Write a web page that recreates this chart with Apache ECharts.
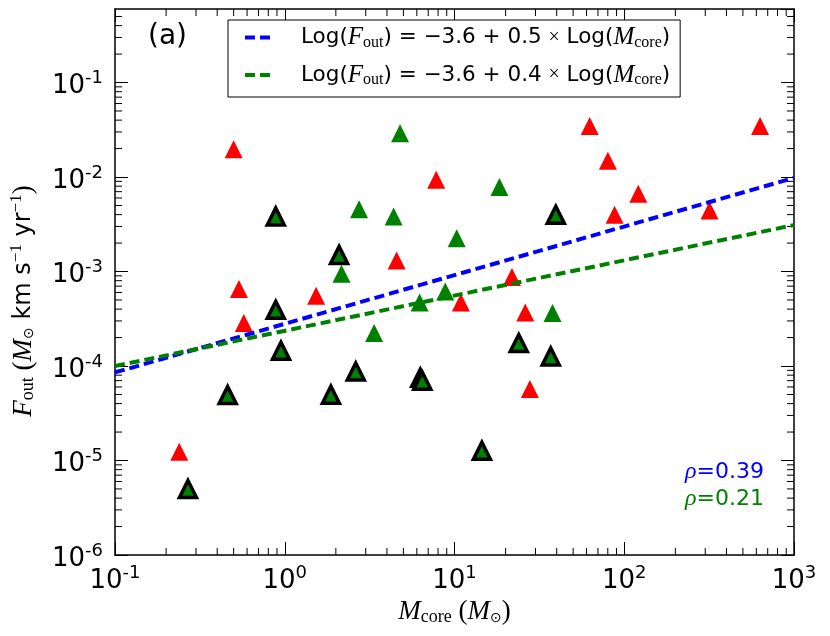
<!DOCTYPE html>
<html lang="en">

<head>
  <meta charset="UTF-8">
  <title>F_out vs M_core</title>
  <style>
    html, body { margin: 0; padding: 0; background: #fff; }
  </style>
</head>

<body>
  <div id="chart" style="width: 830px;height: 636px;"></div>
  <script src="https://cdn.jsdelivr.net/npm/echarts@6.0.0/dist/echarts.min.js"></script>
  <script>
    // axis ranges (log axes)
    var xRange = [0.1, 1000];
    var yRange = [1e-6, 0.6];
    var minorSteps = [2, 3, 4, 5, 6, 7, 8, 9];

    // [M_core, F_out]
    var redPoints = [
      [0.239, 1.24e-5], [0.50, 0.0197], [0.537, 6.52e-4], [0.574, 2.86e-4],
      [1.53, 5.53e-4], [4.56, 1.31e-3], [7.80, 9.33e-3], [10.9, 4.70e-4],
      [21.8, 8.73e-4], [26.1, 3.68e-4], [27.8, 5.70e-5], [62.6, 0.0347],
      [80.1, 0.0149], [87.7, 3.98e-3], [121, 6.64e-3], [318, 4.42e-3],
      [631, 0.0347]
    ];
    var greenPoints = [
      [4.78, 0.0291], [2.74, 4.57e-3], [4.38, 3.82e-3], [18.4, 7.82e-3],
      [10.3, 2.25e-3], [2.16, 9.46e-4], [8.82, 6.15e-4], [6.23, 4.70e-4],
      [37.8, 3.63e-4], [3.36, 2.23e-4]
    ];
    var edgedPoints = [
      [0.885, 3.82e-3], [0.885, 3.93e-4], [2.09, 1.50e-3], [0.95, 1.45e-4],
      [0.461, 4.93e-5], [1.87, 4.97e-5], [2.62, 8.75e-5], [6.29, 7.51e-5],
      [6.46, 6.98e-5], [0.269, 4.99e-6], [39.5, 3.98e-3], [23.9, 1.75e-4],
      [36.9, 1.26e-4], [14.5, 1.27e-5]
    ];

    // fitted lines, end points
    var fitBlue = [[0.1, 8.55e-5], [1000, 9.8e-3]];
    var fitGreen = [[0.1, 1.0e-4], [1000, 3.1e-3]];
    var fitNames = ['fitBlue', 'fitGreen'];
    var fitSlopes = ['0.5', '0.4'];
    var fitIntercept = '\u22123.6';
    var rhoValues = ['0.39', '0.21'];

    var RED = '#ff0000', GREEN = '#008000', BLUE = '#0000ff';
    var SANS = 'DejaVu Sans', SERIF = 'Liberation Serif';
    var DASH = [10, 5];

    // minor tick values 2..9 x 10^n inside each range
    function minorTicks(range) {
      var out = [];
      var lo = Math.floor(Math.log10(range[0])), hi = Math.ceil(Math.log10(range[1]));
      for (var d = lo; d < hi; d++) {
        minorSteps.forEach(function (k) {
          var v = k * Math.pow(10, d);
          if (v > range[0] && v < range[1]) out.push(v);
        });
      }
      return out;
    }
    var tickData = [];
    minorTicks(xRange).forEach(function (v) { tickData.push([v, yRange[0], 0]); });
    minorTicks(yRange).forEach(function (v) { tickData.push([xRange[0], v, 1]); });

    function powLabel(v) {
      var e = Math.round(Math.log10(v));
      return '{a|10}{b|' + e + '}';
    }
    var powRich = {
      a: { fontFamily: SANS, fontSize: 26, color: '#000', padding: [8, 0, 0, 0] },
      b: { fontFamily: SANS, fontSize: 18, color: '#000', padding: [0, 0, 8, 0] }
    };
    var mathRich = {
      m: { fontFamily: SERIF, fontStyle: 'italic', fontSize: 27, color: '#000' },
      p: { fontFamily: SERIF, fontSize: 27, color: '#000' },
      t: { fontFamily: SANS, fontSize: 24, color: '#000' },
      sb: { fontFamily: SERIF, fontSize: 18, color: '#000', padding: [10, 0, 0, 0] },
      sun: { fontFamily: SANS, fontSize: 14, color: '#000', padding: [12, 0, 0, 0] },
      sp: { fontFamily: SERIF, fontSize: 17, color: '#000', padding: [0, 0, 14, 0] }
    };

    function baseAxis(pos, range, labels) {
      return {
        type: 'log',
        logBase: 10,
        min: range[0],
        max: range[1],
        position: pos,
        axisLine: { onZero: false, lineStyle: { color: '#000', width: 1.5 } },
        axisTick: { inside: true, length: 13, lineStyle: { color: '#000', width: 1 } },
        axisLabel: labels ? {
          formatter: powLabel,
          rich: powRich,
          showMaxLabel: pos === 'bottom',
          margin: pos === 'bottom' ? 5 : 12
        } : { show: false },
        splitLine: { show: false }
      };
    }

    var chart = echarts.init(document.getElementById('chart'));

    var option = {
      animation: false,
      backgroundColor: '#fff',
      grid: { left: 113, right: 36, top: 9, bottom: 81 },
      xAxis: [
        Object.assign(baseAxis('bottom', xRange, true), {
          name: '{m|M}{sb|core}{p| (}{m|M}{sun|\u2299}{p|)}',
          nameLocation: 'middle',
          nameGap: 40,
          nameTextStyle: { rich: mathRich }
        }),
        baseAxis('top', xRange, false)
      ],
      yAxis: [
        Object.assign(baseAxis('left', yRange, true), {
          name: '{m|F}{sb|out}{p| (}{m|M}{sun|\u2299}{t| km s}{sp|\u22121}{t| yr}{sp|\u22121}{p|)}',
          nameLocation: 'middle',
          nameRotate: 90,
          nameGap: 76,
          nameTextStyle: { rich: mathRich, padding: [0, 38, 0, 0] }
        }),
        baseAxis('right', yRange, false)
      ],
      legend: {
        left: 228,
        top: 20,
        orient: 'vertical',
        data: fitNames,
        selectedMode: false,
        itemWidth: 25,
        itemHeight: 14,
        itemGap: 12,
        padding: [5, 10, 9, 15],
        borderColor: '#000',
        borderWidth: 1,
        borderRadius: 0,
        backgroundColor: '#fff',
        itemStyle: { opacity: 0 },
        lineStyle: { type: DASH, width: 4 },
        formatter: function (name) {
          var s = fitSlopes[fitNames.indexOf(name)];
          return '{t0|Log(}{m|F}{sb|out}{t|) = ' + fitIntercept + ' + ' + s + ' }{x|\u00d7}{t| Log(}{m|M}{sb|core}{t|)}';
        },
        textStyle: {
          rich: {
            t0: { fontFamily: SANS, fontSize: 21.5, color: '#000', padding: [0, 0, 0, 26] },
            t: { fontFamily: SANS, fontSize: 21.5, color: '#000' },
            x: { fontFamily: SERIF, fontSize: 20, color: '#000' },
            m: { fontFamily: SERIF, fontStyle: 'italic', fontSize: 25, color: '#000' },
            sb: { fontFamily: SERIF, fontSize: 16, color: '#000', padding: [10, 0, 0, 0] }
          }
        }
      },
      graphic: [
        { type: 'text', x: 148, y: 37, style: { text: '(a)', font: '28px "DejaVu Sans"', fill: '#000', verticalAlign: 'middle' } },
        {
          type: 'text', x: 764, y: 472,
          style: {
            text: '{g|\u03c1}{v|=' + rhoValues[0] + '}', align: 'right', verticalAlign: 'middle',
            rich: {
              g: { fontFamily: SERIF, fontStyle: 'italic', fontSize: 24, fill: BLUE },
              v: { fontFamily: SANS, fontSize: 22, fill: BLUE }
            }
          }
        },
        {
          type: 'text', x: 764, y: 499,
          style: {
            text: '{g|\u03c1}{v|=' + rhoValues[1] + '}', align: 'right', verticalAlign: 'middle',
            rich: {
              g: { fontFamily: SERIF, fontStyle: 'italic', fontSize: 24, fill: GREEN },
              v: { fontFamily: SANS, fontSize: 22, fill: GREEN }
            }
          }
        }
      ],
      series: [
        {
          name: 'minorTicks',
          type: 'custom',
          silent: true,
          data: tickData,
          encode: { x: 0, y: 1 },
          z: 1,
          renderItem: function (params, api) {
            var kind = api.value(2), len = 7;
            var st = { stroke: '#000', lineWidth: 1 };
            var a, b;
            if (kind === 0) {
              a = api.coord([api.value(0), yRange[0]]);
              b = api.coord([api.value(0), yRange[1]]);
              return {
                type: 'group', children: [
                  { type: 'line', shape: { x1: a[0], y1: a[1], x2: a[0], y2: a[1] - len }, style: st },
                  { type: 'line', shape: { x1: b[0], y1: b[1], x2: b[0], y2: b[1] + len }, style: st }
                ]
              };
            }
            a = api.coord([xRange[0], api.value(1)]);
            b = api.coord([xRange[1], api.value(1)]);
            return {
              type: 'group', children: [
                { type: 'line', shape: { x1: a[0], y1: a[1], x2: a[0] + len, y2: a[1] }, style: st },
                { type: 'line', shape: { x1: b[0], y1: b[1], x2: b[0] - len, y2: b[1] }, style: st }
              ]
            };
          }
        },
        {
          name: 'red',
          type: 'scatter',
          data: redPoints,
          symbol: 'triangle',
          symbolSize: 18,
          itemStyle: { color: RED, opacity: 1 },
          z: 2
        },
        {
          name: 'green',
          type: 'scatter',
          data: greenPoints,
          symbol: 'triangle',
          symbolSize: 18,
          itemStyle: { color: GREEN, opacity: 1 },
          z: 2
        },
        {
          name: 'edged',
          type: 'scatter',
          data: edgedPoints,
          symbol: 'triangle',
          symbolSize: 17,
          itemStyle: { color: GREEN, borderColor: '#000', borderWidth: 3.5, opacity: 1 },
          z: 2
        },
        {
          name: fitNames[0],
          type: 'line',
          data: fitBlue,
          symbol: 'none',
          silent: true,
          lineStyle: { color: BLUE, width: 4, type: DASH },
          itemStyle: { color: BLUE },
          z: 3
        },
        {
          name: fitNames[1],
          type: 'line',
          data: fitGreen,
          symbol: 'none',
          silent: true,
          lineStyle: { color: GREEN, width: 4, type: DASH },
          itemStyle: { color: GREEN },
          z: 3
        }
      ]
    };

    chart.setOption(option);
  </script>
</body>

</html>
